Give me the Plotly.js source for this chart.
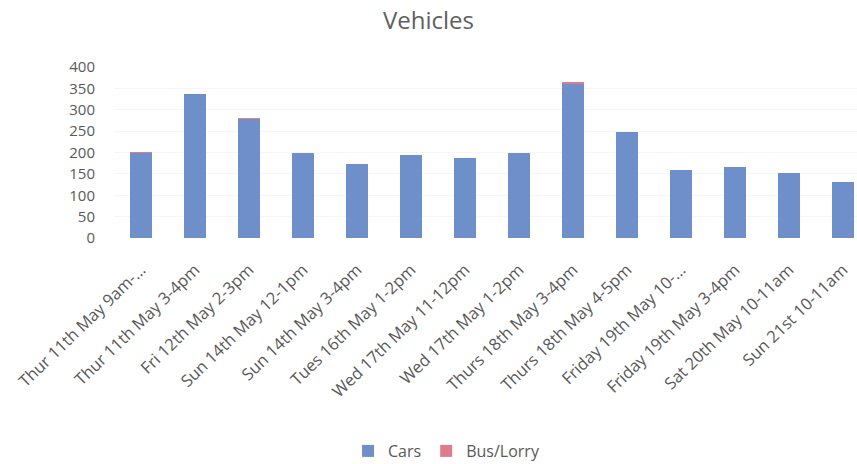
<!DOCTYPE html>
<html>
<head>
<meta charset="utf-8">
<script src="https://cdn.plot.ly/plotly-3.0.1.min.js"></script>
<style>html,body{margin:0;padding:0;background:#fff;}#chart{width:857px;height:464px;}</style>
</head>
<body>
<div id="chart"></div>
<script>
const categories = [
  "Thur 11th May 9am-...",
  "Thur 11th May 3-4pm",
  "Fri 12th May 2-3pm",
  "Sun 14th May 12-1pm",
  "Sun 14th May 3-4pm",
  "Tues 16th May 1-2pm",
  "Wed 17th May 11-12pm",
  "Wed 17th May 1-2pm",
  "Thurs 18th May 3-4pm",
  "Thurs 18th May 4-5pm",
  "Friday 19th May 10-...",
  "Friday 19th May 3-4pm",
  "Sat 20th May 10-11am",
  "Sun 21st 10-11am"
];
const cars = [198, 338, 278, 200, 172, 193, 186, 198, 361, 248, 158, 167, 153, 130];
const busLorry = [4, 0, 3, 0, 0, 0, 0, 0, 4, 0, 0, 0, 0, 0];
const yTicks = [0, 50, 100, 150, 200, 250, 300, 350, 400];

const traces = [
  {type: 'bar', name: 'Cars', x: categories, y: cars,
   marker: {color: '#6f8fca'}},
  {type: 'bar', name: 'Bus/Lorry', x: categories, y: busLorry,
   marker: {color: '#e07c89'}}
];

const layout = {
  width: 857, height: 464,
  barmode: 'stack',
  bargap: 0.59,
  paper_bgcolor: '#ffffff',
  plot_bgcolor: '#ffffff',
  font: {family: 'Open Sans, sans-serif', color: '#595959', size: 13},
  title: {text: 'Vehicles', x: 0.5, xanchor: 'center', y: 0.955, yanchor: 'middle',
          font: {size: 24, color: '#5f5f5f', family: 'Open Sans, sans-serif'}},
  margin: {l: 114, r: 0, t: 67, b: 226},
  xaxis: {
    type: 'category',
    range: [-0.5, 13.26],
    tickangle: -44,
    tickfont: {size: 16.5, color: '#595959'},
    showgrid: false, showline: false, zeroline: false, ticks: '',
    ticklabelstandoff: 18
  },
  yaxis: {
    range: [0, 400],
    tickvals: yTicks,
    ticktext: yTicks.map(String),
    tickfont: {size: 15, color: '#595959'},
    showgrid: true, gridcolor: '#f6f6f6',
    zeroline: false, showline: false, ticks: '',
    ticklabelstandoff: 18
  },
  showlegend: true,
  legend: {orientation: 'h', x: 0.315, xanchor: 'left', y: 0.028, yanchor: 'middle',
           yref: 'container', font: {size: 16, color: '#595959'}, traceorder: 'normal',
           itemwidth: 30}
};

Plotly.newPlot('chart', traces, layout, {displayModeBar: false, staticPlot: true});
</script>
</body>
</html>
